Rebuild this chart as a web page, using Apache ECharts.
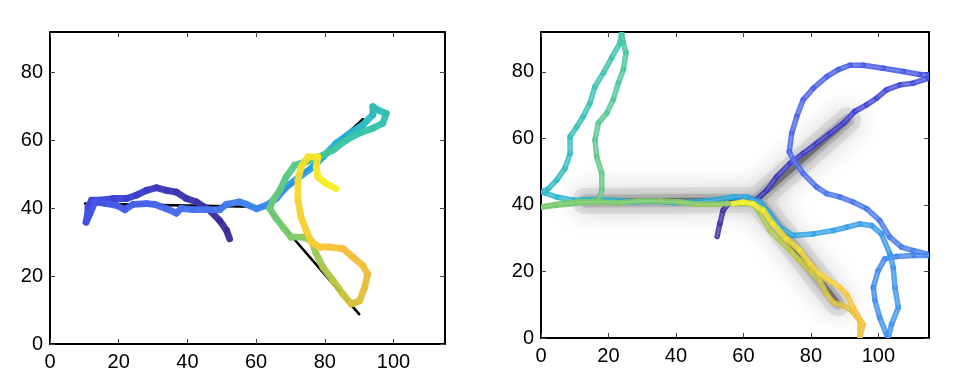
<!DOCTYPE html>
<html><head><meta charset="utf-8">
<script src="https://cdn.jsdelivr.net/npm/echarts@6/dist/echarts.min.js"></script>
<style>html,body{margin:0;padding:0;background:#fff}#c{width:960px;height:380px}</style>
</head><body><div id="c"></div>
<script>
const xTicks = [0, 20, 40, 60, 80, 100];
const yTicks = [0, 20, 40, 60, 80];

// Left panel: skeleton (black) and tracked path with colour value (time)
const skelLX = [10.2, 63.0, 91.1, 63.0, 90.0];
const skelLY = [41.4, 40.4, 66.3, 40.4, 8.8];
const leftX = [52.3,51.4,49.4,46.5,42.6,39.7,36.8,33.9,31.0,28.1,25.2,22.3,18.4,14.5,12.1,11.1,10.8,10.5,11.6,13.1,16.5,19.4,21.8,24.2,28.1,30.4,33.9,36.8,38.2,41.7,45.5,49.4,51.4,55.2,57.2,60.1,63.0,65.9,68.8,72.7,76.5,79.5,83.3,87.2,91.1,94.0,94.0,95.4,97.9,96.9,94.0,90.1,86.2,82.4,78.5,74.6,71.2,68.8,66.9,64.9,64.0,65.9,67.8,70.2,73.6,76.1,77.5,79.5,82.4,85.3,87.7,90.1,91.6,92.5,91.1,88.2,85.3,81.4,78.5,76.1,74.6,73.1,72.2,72.2,73.1,75.1,78.0,77.5,78.0,80.4,83.3];
const leftY = [31.0,33.5,36.4,39.4,41.9,42.9,44.8,45.3,46.1,45.3,43.9,42.9,42.9,42.4,42.4,40.4,37.4,35.9,38.4,41.9,41.4,40.9,39.6,41.2,41.4,41.2,39.9,38.6,40.0,39.6,39.6,39.6,41.2,41.9,41.2,39.9,40.9,42.9,46.3,49.3,52.2,55.2,59.2,62.1,64.6,67.6,70.0,69.0,68.0,65.1,63.6,62.2,60.1,57.2,55.2,53.7,52.7,49.3,45.3,42.4,39.9,37.0,34.5,31.5,31.5,30.5,26.6,22.6,18.7,14.7,11.8,12.7,16.7,20.6,23.1,25.6,28.1,28.6,28.6,30.0,33.5,37.4,42.4,48.3,52.2,55.2,55.2,52.2,49.3,47.3,45.8];
const leftC = [0,0.005,0.01,0.02,0.03,0.04,0.05,0.06,0.07,0.08,0.09,0.1,0.11,0.12,0.125,0.13,0.14,0.145,0.15,0.155,0.16,0.17,0.175,0.18,0.19,0.195,0.2,0.21,0.215,0.22,0.23,0.24,0.25,0.26,0.27,0.28,0.29,0.31,0.33,0.35,0.37,0.39,0.41,0.43,0.45,0.46,0.47,0.475,0.48,0.49,0.495,0.5,0.51,0.52,0.53,0.54,0.545,0.55,0.56,0.57,0.575,0.58,0.59,0.6,0.62,0.63,0.65,0.67,0.69,0.72,0.74,0.76,0.77,0.78,0.79,0.8,0.81,0.83,0.84,0.85,0.86,0.87,0.88,0.9,0.91,0.92,0.93,0.94,0.95,0.97,1.0];

// Right panel: skeleton (grey glow) and tracked path
const skelRX = [13.0, 64.0, 91.0, 64.0, 88.0];
const skelRY = [41.2, 41.5, 65.5, 41.5, 10.5];
const rightX = [52.2,53.0,54.0,55.5,58.0,60.9,63.9,66.9,69.8,73.8,77.7,81.7,85.6,89.6,93.0,96.5,99.5,102.4,106.4,110.3,114.8,
114.8,112.3,107.4,101.4,95.5,91.6,88.1,84.7,80.7,77.7,75.8,74.3,73.6,74.8,77.7,81.7,84.7,88.6,92.5,96.5,100.4,103.4,106.9,110.3,114.8,
114.8,110.3,105.4,101.9,99.9,98.5,99.0,100.4,102.4,102.9,103.9,105.9,104.9,104.4,103.4,100.9,98.0,94.5,90.6,86.6,80.7,74.8,70.8,67.9,64.9,60.9,57.0,51.1,45.1,39.2,33.3,27.4,21.4,14.5,9.6,4.6,1.2,0.2,
2.2,4.6,7.1,8.6,8.6,10.6,12.5,14.5,16.0,18.5,20.9,23.4,23.9,24.4,25.2,24.4,22.9,21.4,19.5,17.0,16.0,16.5,18.0,18.0,17.0,13.5,8.6,4.6,0.2,
4.6,10.6,17.0,23.4,29.3,35.3,41.2,46.1,51.1,55.0,59.0,62.9,64.9,67.9,70.8,73.8,76.7,79.7,82.7,84.7,86.6,89.6,92.1,94.5,94.5,
95.5,92.5,90.6,88.6,85.6,82.7,79.7,76.7,72.8,68.8,65.9,62.9,59.9,57.0];
const rightY = [30.5,34.3,38.4,40.4,41.6,41.9,41.6,44.4,48.4,52.5,55.5,58.5,61.5,64.6,68.1,70.1,72.1,74.6,76.1,76.6,78.1,
79.0,79.2,80.1,81.1,82.0,82.0,80.7,78.6,75.1,71.6,66.6,61.5,56.0,53.5,49.5,45.4,43.4,42.4,40.9,38.9,35.3,30.3,27.3,26.3,25.1,
24.8,24.8,24.5,23.8,20.2,15.2,11.2,6.1,1.1,0.1,4.1,9.2,15.2,21.2,25.3,31.3,33.8,34.3,33.3,32.3,31.3,30.8,33.3,37.4,40.9,42.4,42.4,41.4,40.9,40.7,41.1,40.9,41.4,41.6,41.4,42.4,43.6,43.9,
44.9,47.4,51.0,55.5,60.5,63.5,66.6,70.6,75.6,79.7,84.2,88.7,91.7,88.7,85.7,80.7,76.6,71.6,67.6,64.6,59.5,54.5,49.5,44.4,41.4,40.9,40.3,39.9,39.4,
40.2,40.9,40.9,40.7,41.2,41.2,40.9,40.2,40.2,40.4,40.6,40.2,37.4,32.3,29.3,26.3,23.3,20.2,17.2,13.2,10.7,9.7,8.2,5.1,0.1,
4.1,9.2,13.2,15.2,17.2,19.2,22.3,26.3,29.8,34.3,38.4,40.4,40.9,40.4];
const rightC = [0,0.01,0.02,0.03,0.04,0.05,0.06,0.065,0.07,0.075,0.08,0.085,0.09,0.095,0.1,0.105,0.11,0.115,0.12,0.125,0.13,
0.135,0.14,0.145,0.15,0.155,0.16,0.165,0.17,0.175,0.18,0.185,0.19,0.195,0.2,0.205,0.21,0.215,0.22,0.225,0.23,0.235,0.24,0.245,0.25,0.255,
0.26,0.265,0.27,0.275,0.28,0.285,0.29,0.295,0.3,0.3,0.305,0.31,0.315,0.32,0.325,0.33,0.335,0.34,0.345,0.35,0.355,0.36,0.365,0.37,0.375,0.38,0.385,0.39,0.395,0.4,0.405,0.41,0.415,0.42,0.425,0.43,0.435,0.44,
0.445,0.45,0.455,0.46,0.465,0.47,0.475,0.48,0.485,0.49,0.495,0.5,0.505,0.51,0.515,0.52,0.525,0.53,0.535,0.54,0.545,0.55,0.555,0.56,0.565,0.57,0.575,0.58,0.585,
0.59,0.595,0.6,0.605,0.61,0.615,0.62,0.625,0.63,0.635,0.64,0.65,0.66,0.67,0.68,0.69,0.7,0.71,0.72,0.73,0.74,0.75,0.76,0.77,0.78,
0.8,0.82,0.84,0.85,0.86,0.87,0.88,0.9,0.91,0.93,0.95,0.97,0.98,1.0];

const parula = ['#3a2a96','#3c3fd4','#4868ee','#3a8ff0','#20aedb','#37c3a6','#7fcb66','#c4c43c','#f6bd3c','#f3dc2c','#f7f620'];

function segs(X, Y, C) {
  const d = [];
  for (let i = 0; i < X.length; i++) {
    const j = Math.min(i + 1, X.length - 1);
    d.push([X[i], Y[i], C[i], X[j], Y[j]]);
  }
  return d;
}
function pairs(X, Y) { return X.map((x, i) => [x, Y[i]]); }
function trackRender(w, inner, op) {
  return function (params, api) {
    const p = api.coord([api.value(0), api.value(1)]);
    const q = api.coord([api.value(3), api.value(4)]);
    const c = api.visual('color');
    const shape = { x1: p[0], y1: p[1], x2: q[0], y2: q[1] };
    const kids = [{ type: 'line', shape: shape, style: { stroke: c, lineWidth: w, lineCap: 'round', opacity: op } }];
    if (inner > 0) {
      kids.push({ type: 'line', shape: shape, style: { stroke: 'rgba(255,255,255,' + inner + ')', lineWidth: w * 0.3, lineCap: 'round' } });
    }
    return { type: 'group', children: kids };
  };
}

const font = { fontFamily: 'Liberation Sans, Arial, sans-serif', fontSize: 20, color: '#000' };
function xAx(grid, pos) {
  const bottom = pos === 'bottom';
  return {
    type: 'value', gridIndex: grid, position: pos, min: 0, max: 115,
    axisLine: { show: true, onZero: false, lineStyle: { color: '#000', width: 2 } },
    axisTick: { show: true, inside: true, length: 5, customValues: xTicks, lineStyle: { color: '#444', width: 1 } },
    axisLabel: Object.assign({ show: bottom, margin: 8, customValues: xTicks }, font),
    splitLine: { show: false }
  };
}
function yAx(grid, pos) {
  const left = pos === 'left';
  return {
    type: 'value', gridIndex: grid, position: pos, min: 0, max: 92,
    axisLine: { show: true, onZero: false, lineStyle: { color: '#000', width: 2 } },
    axisTick: { show: true, inside: true, length: 5, customValues: yTicks, lineStyle: { color: '#444', width: 1 } },
    axisLabel: Object.assign({ show: left, margin: 7, customValues: yTicks }, font),
    splitLine: { show: false }
  };
}

const chart = echarts.init(document.getElementById('c'), null, { renderer: 'canvas' });
chart.setOption({
  animation: false,
  backgroundColor: '#fff',
  grid: [
    { left: 50, top: 32, width: 395, height: 312 },
    { left: 541, top: 32, width: 388, height: 306 }
  ],
  xAxis: [xAx(0, 'bottom'), xAx(0, 'top'), xAx(1, 'bottom'), xAx(1, 'top')],
  yAxis: [yAx(0, 'left'), yAx(0, 'right'), yAx(1, 'left'), yAx(1, 'right')],
  visualMap: [
    { type: 'continuous', show: false, seriesIndex: [1], dimension: 2, min: 0, max: 1, inRange: { color: parula } },
    { type: 'continuous', show: false, seriesIndex: [5], dimension: 2, min: 0, max: 1, inRange: { color: parula } }
  ],
  series: [
    { type: 'line', xAxisIndex: 0, yAxisIndex: 0, data: pairs(skelLX, skelLY), showSymbol: false, symbol: 'none',
      lineStyle: { color: '#000', width: 2.6, cap: 'round', join: 'round' }, z: 2 },
    { type: 'custom', xAxisIndex: 0, yAxisIndex: 0, data: segs(leftX, leftY, leftC), clip: true,
      renderItem: trackRender(6.8, 0, 0.95), encode: { x: 0, y: 1 }, z: 3 },
    { type: 'line', xAxisIndex: 2, yAxisIndex: 2, data: pairs(skelRX, skelRY), showSymbol: false, symbol: 'none',
      lineStyle: { color: 'rgba(195,195,195,0.4)', width: 26, cap: 'round', join: 'round', shadowBlur: 24, shadowColor: 'rgba(0,0,0,0.4)' }, z: 1 },
    { type: 'line', xAxisIndex: 2, yAxisIndex: 2, data: pairs(skelRX, skelRY), showSymbol: false, symbol: 'none',
      lineStyle: { color: 'rgba(140,140,140,0.3)', width: 13, cap: 'round', join: 'round', shadowBlur: 12, shadowColor: 'rgba(0,0,0,0.3)' }, z: 1 },
    { type: 'line', xAxisIndex: 2, yAxisIndex: 2, data: pairs(skelRX, skelRY), showSymbol: false, symbol: 'none',
      lineStyle: { color: 'rgba(60,60,60,0.5)', width: 5, cap: 'round', join: 'round', shadowBlur: 6, shadowColor: 'rgba(0,0,0,0.4)' }, z: 1 },
    { type: 'custom', xAxisIndex: 2, yAxisIndex: 2, data: segs(rightX, rightY, rightC), clip: true,
      renderItem: trackRender(5.5, 0.18, 0.85), encode: { x: 0, y: 1 }, z: 3 }
  ]
});
</script></body></html>
